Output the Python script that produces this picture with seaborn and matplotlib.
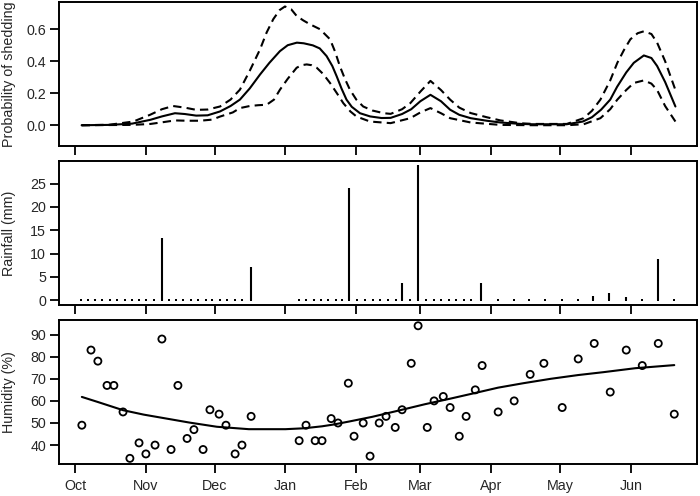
import matplotlib
matplotlib.use('Agg')

import numpy as np
import pandas as pd
import matplotlib.pyplot as plt
import seaborn as sns

# x axis is days since 1 Oct
month_days = [0, 31, 61, 92, 123, 151, 182, 212, 243]
month_labels = ['Oct', 'Nov', 'Dec', 'Jan', 'Feb', 'Mar', 'Apr', 'May', 'Jun']

# probability of shedding (fit + band)
shed_day = [2.9, 15, 25, 33, 38, 43.7, 48, 53, 58, 63.4, 68, 72.1, 76.4, 80.9, 85, 89.6, 93, 97,
            100, 104, 107, 110, 112.5, 114.4, 116.5, 118.7, 121, 124.6, 129, 134, 138, 143, 147,
            151, 155.4, 160, 164, 168, 173, 180, 186, 195, 200, 215, 222, 226, 230, 234, 237,
            241, 244.3, 248.7, 252, 254.5, 258, 262.5]
shed_mean = [0, 0.002, 0.01, 0.034, 0.055, 0.075, 0.07, 0.06, 0.062, 0.086, 0.12, 0.16, 0.23,
             0.317, 0.39, 0.463, 0.5, 0.516, 0.512, 0.499, 0.48, 0.432, 0.37, 0.306, 0.23, 0.16,
             0.115, 0.075, 0.055, 0.045, 0.046, 0.07, 0.1, 0.15, 0.19, 0.15, 0.097, 0.065, 0.044,
             0.028, 0.017, 0.008, 0.006, 0.006, 0.023, 0.05, 0.097, 0.16, 0.24, 0.33, 0.39, 0.436,
             0.42, 0.37, 0.27, 0.117]

upper_day = [2.9, 15, 25.5, 32.8, 38, 42.9, 48, 53, 58, 63.4, 68, 72.1, 76.4, 80.9, 83.8, 86.7,
             89.5, 91.8, 94.5, 96.9, 99.8, 102.7, 107.1, 111.5, 113.7, 115.8, 118, 120.2, 123, 126,
             130, 135, 138, 143, 146.6, 151, 155.4, 160, 164, 168, 173, 180, 186, 195, 200.5, 215,
             222.4, 226, 229.7, 234, 237.1, 240, 242.8, 246, 248.7, 252, 254.5, 258, 262.5]
shed_upper = [0, 0.003, 0.023, 0.065, 0.1, 0.12, 0.11, 0.096, 0.098, 0.117, 0.16, 0.222, 0.34,
              0.474, 0.58, 0.663, 0.72, 0.742, 0.725, 0.683, 0.655, 0.631, 0.6, 0.537, 0.46, 0.369,
              0.29, 0.222, 0.16, 0.117, 0.092, 0.075, 0.071, 0.1, 0.138, 0.21, 0.277, 0.22, 0.16,
              0.11, 0.076, 0.05, 0.03, 0.012, 0.008, 0.008, 0.044, 0.09, 0.16, 0.28, 0.39, 0.47,
              0.537, 0.575, 0.587, 0.57, 0.516, 0.4, 0.22]

lower_day = [2.9, 25, 33, 38, 43.7, 49, 54.6, 60, 63.4, 69, 72.1, 76.4, 80, 83.8, 87, 89.6, 93,
             96.9, 99, 101.3, 103.5, 105.7, 108.5, 111.5, 114.5, 117.3, 120.4, 123.1, 129, 138,
             146.6, 151, 155.4, 160, 164, 173, 186, 200, 215, 222.4, 229.7, 234, 237.1, 241,
             244.3, 248.7, 252, 254.5, 258, 262.5]
shed_lower = [0, 0.002, 0.008, 0.018, 0.03, 0.028, 0.028, 0.035, 0.054, 0.08, 0.107, 0.12, 0.125,
              0.128, 0.16, 0.222, 0.29, 0.359, 0.375, 0.38, 0.375, 0.359, 0.32, 0.264, 0.2, 0.138,
              0.086, 0.054, 0.023, 0.013, 0.044, 0.08, 0.107, 0.075, 0.044, 0.017, 0.002, 0, 0,
              0.006, 0.044, 0.1, 0.16, 0.22, 0.264, 0.28, 0.26, 0.22, 0.12, 0.023]

# rainfall (mm) on sampling days
rain_day = [2.5, 5.8, 8.7, 11.9, 15.2, 18.5, 21.9, 24.8, 28, 31.2, 34.5, 37.9, 41.1, 44, 47.2,
            50.6, 53.9, 57.1, 60, 63.4, 66.6, 69.8, 72.9, 76.8, 97.9, 100.8, 104.5, 107.4, 110.7,
            113.9, 116.8, 119.8, 123.4, 126.7, 130.3, 133.5, 136.9, 140.2, 143.1, 146.6, 150,
            153.6, 156.8, 160.2, 163.4, 166.7, 170.1, 173.3, 177.4, 185, 191.9, 198.5, 205.4,
            213.1, 220, 226.5, 233.5, 240.8, 248.1, 255.1, 261.8]
rain_mm = [0, 0, 0.3, 0, 0, 0, 0, 0, 0, 0, 0, 13.3, 0, 0, 0,
           0, 0, 0, 0, 0, 0, 0, 0, 7.1, 0, 0, 0.3, 0, 0,
           0, 0, 24.1, 0, 0, 0, 0, 0, 0, 3.7, 0, 28.9,
           0, 0, 0, 0, 0, 0, 0, 3.6, 0, 0, 0, 0,
           0, 0, 0.9, 1.6, 0.7, 0, 8.9, 0]

# relative humidity (%)
hum_day = [3, 7, 10, 14, 17, 21, 24, 28, 31, 35, 38, 42, 45, 49, 52, 56, 59, 63, 66, 70,
           73, 77, 98, 101, 105, 108, 112, 115, 119.5, 122, 126, 129, 133, 136, 140, 143, 147,
           150, 154, 157, 161, 164, 168, 171, 175, 178, 185, 192, 199, 205, 213, 220, 227,
           234, 241, 248, 255, 262]
hum_pct = [49, 83, 78, 67, 67, 55, 34, 41, 36, 40, 88, 38, 67, 43, 47, 38, 56, 54, 49, 36,
           40, 53, 42, 49, 42, 42, 52, 50, 68, 44, 50, 35, 50, 53, 48, 56, 77,
           94, 48, 60, 62, 57, 44, 53, 65, 76, 55, 60, 72, 77, 57, 79, 86,
           64, 83, 76, 86, 54]

# smooth trend through humidity
trend_day = [3, 10, 21, 30, 40, 50, 62, 76, 92, 100, 108, 113, 120, 130, 143, 153, 164, 175, 185,
             196, 208, 220, 231, 245, 262]
trend_pct = [61.8, 59.5, 55.8, 53.8, 52, 50.2, 48.3, 47.2, 47.2, 47.6, 48.5, 49.3, 50.7, 52.8,
             56, 58.5, 61, 63.6, 66, 68, 70, 71.7, 73, 74.8, 76.2]

sns.set_style('ticks')
plt.rcParams['font.family'] = ['Liberation Sans', 'DejaVu Sans']
plt.rcParams['font.size'] = 10.3

fig = plt.figure(figsize=(7, 4.96), dpi=100)
left, width, h = 0.0836, 0.912, 0.291
ax1 = fig.add_axes([left, 0.7056, width, h])
ax2 = fig.add_axes([left, 0.3845, width, h])
ax3 = fig.add_axes([left, 0.0645, width, h])

dash = (4, 2.5)
sns.lineplot(x=shed_day, y=shed_mean, ax=ax1, color='black', lw=1.5, sort=False)
sns.lineplot(x=upper_day, y=shed_upper, ax=ax1, color='black', lw=1.5, sort=False,
             linestyle=(0, dash))
sns.lineplot(x=lower_day, y=shed_lower, ax=ax1, color='black', lw=1.5, sort=False,
             linestyle=(0, dash))
ax1.set_ylim(-0.13, 0.772)
ax1.set_yticks([0.0, 0.2, 0.4, 0.6])
ax1.set_yticklabels(['0.0', '0.2', '0.4', '0.6'])
ax1.set_ylabel('Probability of shedding')

ax2.vlines(rain_day, 0, rain_mm, color='black', lw=1.5, capstyle='butt')
sns.scatterplot(x=rain_day, y=[0] * len(rain_day), ax=ax2, marker='s', s=2.2, color='black',
                linewidth=0)
ax2.set_ylim(-1.07, 29.84)
ax2.set_yticks([0, 5, 10, 15, 20, 25])
ax2.set_ylabel('Rainfall (mm)')

sns.scatterplot(x=hum_day, y=hum_pct, ax=ax3, marker='o', s=26, facecolor='none',
                edgecolor='black', linewidth=1.3)
sns.lineplot(x=trend_day, y=trend_pct, ax=ax3, color='black', lw=1.5, sort=False)
ax3.set_ylim(31.44, 96.76)
ax3.set_yticks([40, 50, 60, 70, 80, 90])
ax3.set_ylabel('Humidity (%)')

for ax in (ax1, ax2, ax3):
    ax.set_xlim(-7.2, 271.9)
    ax.set_xticks(month_days)
    ax.tick_params(axis='both', direction='out', length=6.5, width=1.3, pad=2.5,
                   labelsize=10.3, color='black')
    ax.tick_params(axis='x', pad=4)
    for s in ax.spines.values():
        s.set_visible(True)
        s.set_linewidth(1.4)
        s.set_color('black')
    ax.yaxis.set_label_coords(-0.066, 0.5)
    ax.set_xlabel('')

ax1.set_xticklabels([])
ax2.set_xticklabels([])
ax3.set_xticklabels(month_labels)

fig.savefig('out.png', dpi=100)
